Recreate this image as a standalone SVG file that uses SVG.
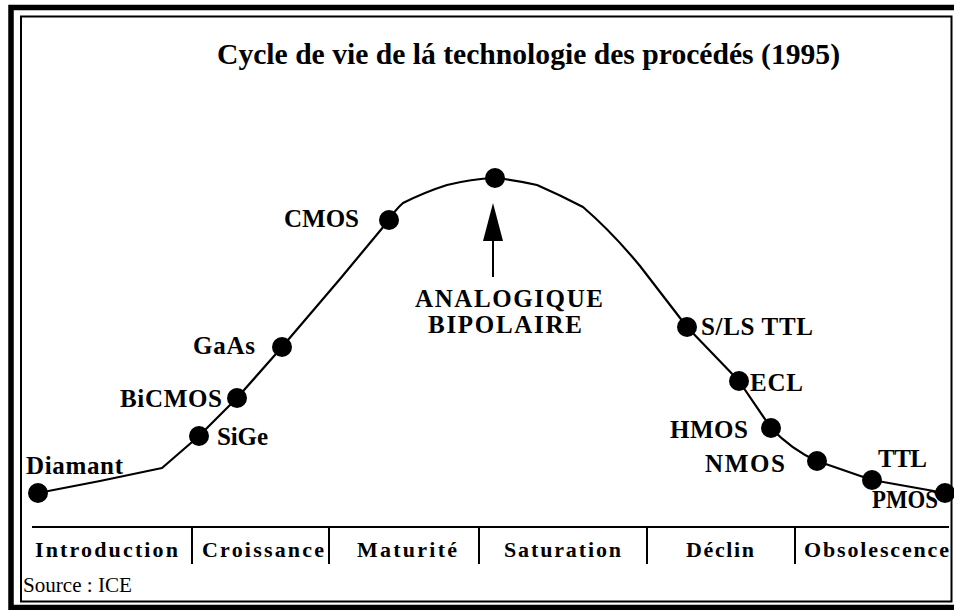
<svg xmlns="http://www.w3.org/2000/svg" width="954" height="610" viewBox="0 0 954 610">
<style>
.frame{fill:none;stroke:#000}
.curve{fill:none;stroke:#000;stroke-width:2.2;stroke-linejoin:round}
.dot{fill:#000}
.lbl{font-family:"Liberation Serif","Times New Roman",serif;font-weight:bold;font-size:25px;fill:#000}
.phase{font-family:"Liberation Serif","Times New Roman",serif;font-weight:bold;font-size:22px;fill:#000}
.title{font-family:"Liberation Serif","Times New Roman",serif;font-weight:bold;font-size:29px;fill:#000}
.src{font-family:"Liberation Serif","Times New Roman",serif;font-size:20px;fill:#000}
.rule{stroke:#000;stroke-width:2;fill:none}
</style>
<rect width="954" height="610" fill="#fff"/>
<g id="frame">
<path class="frame" stroke-width="5.5" d="M960 7.5 H11 V607.5 H960"/>
<path class="frame" stroke-width="2" d="M21 601.5 V16.5 H951.5 V601.5 Z"/>
</g>
<text id="title" class="title" x="217" y="64" textLength="623" lengthAdjust="spacingAndGlyphs">Cycle de vie de lá technologie des procédés (1995)</text>
<g id="connectors">
<path class="curve" d="M38 493 L100 481 L162 468 L199 436 L237 398 L282 347 L340 279 L389 220 Q395 210 403 203 Q425 192 447 185 Q471 179 495 178 Q516 180 537 185 Q560 195 583 207 Q612 232 640 266 L687 327 L739 381 L771 428 Q792 450 817 461 L872 480 L945 493"/>
<g id="arrow">
<line x1="493" y1="238" x2="493" y2="277" stroke="#000" stroke-width="2"/>
<polygon points="493,203 483,241 503,241" fill="#000"/>
</g>
</g>
<g id="node-diamant"><circle class="dot" cx="38" cy="493" r="10"/><text class="lbl" x="26" y="474" textLength="97" lengthAdjust="spacing">Diamant</text></g>
<g id="node-sige"><circle class="dot" cx="199" cy="436" r="10"/><text class="lbl" x="217" y="445" textLength="51" lengthAdjust="spacing">SiGe</text></g>
<g id="node-bicmos"><circle class="dot" cx="237" cy="398" r="10"/><text class="lbl" x="120" y="407" textLength="102" lengthAdjust="spacing">BiCMOS</text></g>
<g id="node-gaas"><circle class="dot" cx="282" cy="347" r="10"/><text class="lbl" x="193" y="354" textLength="62" lengthAdjust="spacing">GaAs</text></g>
<g id="node-cmos"><circle class="dot" cx="389" cy="220" r="10"/><text class="lbl" x="284" y="227" textLength="75" lengthAdjust="spacing">CMOS</text></g>
<g id="node-analogique"><circle class="dot" cx="495" cy="178" r="10"/>
<text class="lbl" x="415" y="307" textLength="188" lengthAdjust="spacing">ANALOGIQUE</text>
<text class="lbl" x="428" y="333" textLength="154" lengthAdjust="spacing">BIPOLAIRE</text></g>
<g id="node-slsttl"><circle class="dot" cx="687" cy="327" r="10"/><text class="lbl" x="701" y="335" textLength="112" lengthAdjust="spacing">S/LS TTL</text></g>
<g id="node-ecl"><circle class="dot" cx="739" cy="381" r="10"/><text class="lbl" x="750" y="391" textLength="53" lengthAdjust="spacing">ECL</text></g>
<g id="node-hmos"><circle class="dot" cx="771" cy="428" r="10"/><text class="lbl" x="670" y="438" textLength="78" lengthAdjust="spacing">HMOS</text></g>
<g id="node-nmos"><circle class="dot" cx="817" cy="461" r="10"/><text class="lbl" x="705" y="472" textLength="80" lengthAdjust="spacing">NMOS</text></g>
<g id="node-ttl"><circle class="dot" cx="872" cy="480" r="10"/><text class="lbl" x="878" y="467" textLength="49" lengthAdjust="spacing">TTL</text></g>
<g id="node-pmos"><circle class="dot" cx="945" cy="493" r="10"/><text class="lbl" x="872" y="508" textLength="66" lengthAdjust="spacingAndGlyphs">PMOS</text></g>
<g id="phases">
<line class="rule" x1="32" y1="527" x2="949" y2="527"/>
<line class="rule" x1="192" y1="527" x2="192" y2="564"/>
<line class="rule" x1="329" y1="527" x2="329" y2="564"/>
<line class="rule" x1="479" y1="527" x2="479" y2="564"/>
<line class="rule" x1="647" y1="527" x2="647" y2="564"/>
<line class="rule" x1="795" y1="527" x2="795" y2="564"/>
<text class="phase" x="35" y="557" textLength="143" lengthAdjust="spacing">Introduction</text>
<text class="phase" x="202" y="557" textLength="122" lengthAdjust="spacing">Croissance</text>
<text class="phase" x="357" y="557" textLength="100" lengthAdjust="spacing">Maturité</text>
<text class="phase" x="504" y="557" textLength="117" lengthAdjust="spacing">Saturation</text>
<text class="phase" x="686" y="557" textLength="68" lengthAdjust="spacing">Déclin</text>
<text class="phase" x="804" y="557" textLength="145" lengthAdjust="spacing">Obsolescence</text>
</g>
<text id="source" class="src" x="23" y="592" textLength="109" lengthAdjust="spacingAndGlyphs">Source : ICE</text>
</svg>
